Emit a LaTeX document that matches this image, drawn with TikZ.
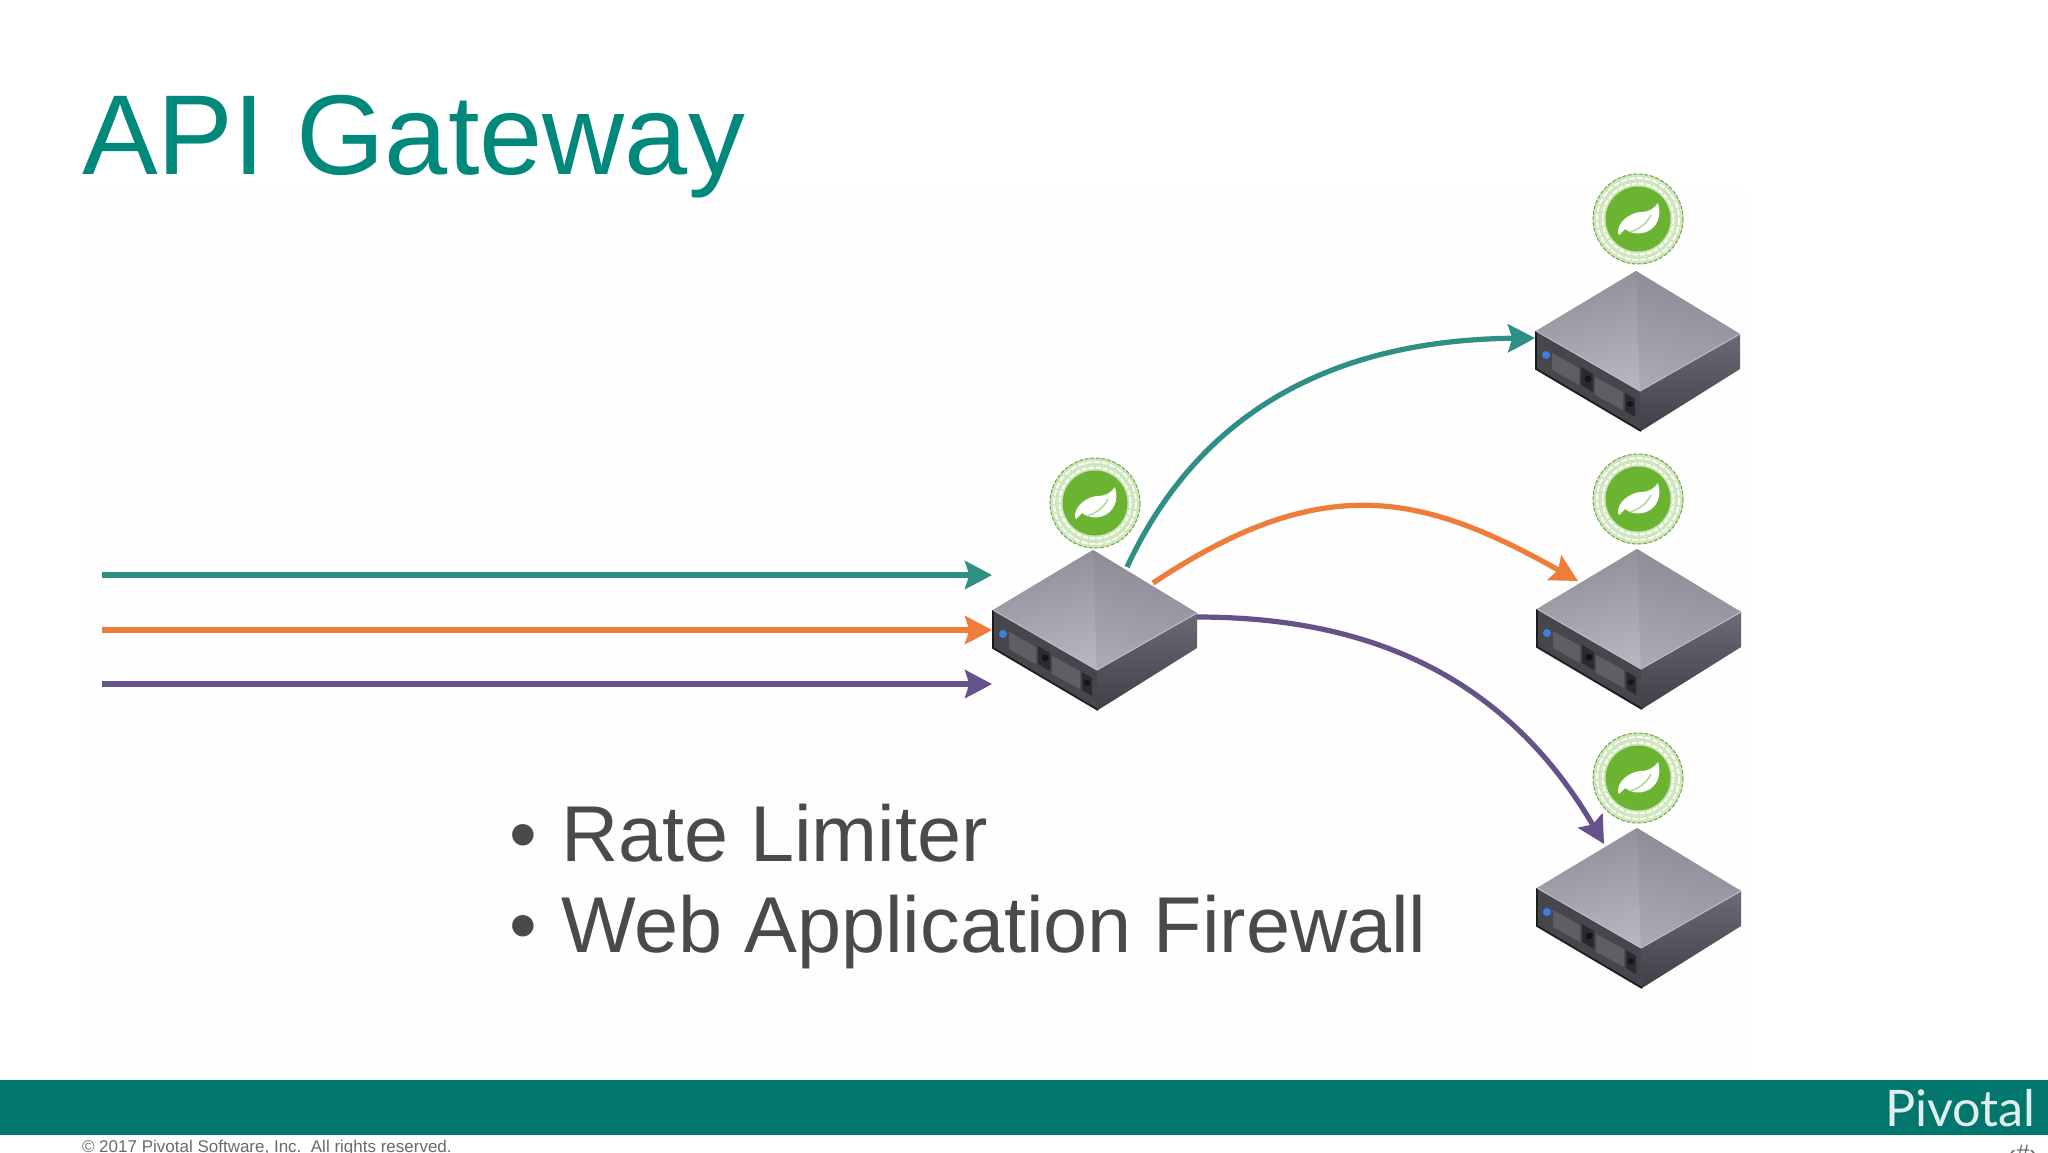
\documentclass[tikz,border=0pt]{standalone}
\usepackage{fontspec}
\setmainfont{Liberation Sans}
\newfontfamily\logofont{Lato}
\usetikzlibrary{arrows.meta}
\definecolor{titleC}{HTML}{00897B}
\definecolor{bandC}{HTML}{00766C}
\definecolor{tealC}{HTML}{2E8F85}
\definecolor{orangeC}{HTML}{EF7D3A}
\definecolor{purpleC}{HTML}{65528A}
\definecolor{bodyC}{HTML}{4A4A4C}
\definecolor{footC}{HTML}{6A6A6A}
\definecolor{springC}{HTML}{6BB432}
\definecolor{paperC}{HTML}{FEFEFE}
\definecolor{faceC}{HTML}{46464C}
\definecolor{bandDarkC}{HTML}{2A2A2F}
\definecolor{panelC}{HTML}{5E5E64}
\definecolor{knobC}{HTML}{141416}
\definecolor{ledC}{HTML}{3B7FE0}
\definecolor{rimC}{HTML}{BEBCC6}
\definecolor{edgeC}{HTML}{1C1C20}
\definecolor{topMidC}{HTML}{A09EA9}
\definecolor{topAL}{HTML}{8F8D97}
\definecolor{topBL}{HTML}{B6B4C0}
\definecolor{topAR}{HTML}{8B8995}
\definecolor{topBR}{HTML}{AAA8B5}
\definecolor{sideA}{HTML}{6C6A75}
\definecolor{sideB}{HTML}{403E48}
\tikzset{
  flow/.style={line width=2.6pt,-{Stealth[length=13.5pt,width=14pt,inset=2.2pt]},
    preaction={draw=black,draw opacity=.10,transform canvas={xshift=.8pt,yshift=-.9pt}}},
  txt/.style={inner sep=0pt,outer sep=0pt,anchor=base west},
  server/.pic={
    \coordinate (-inA) at (-101,25);
    \coordinate (-inB) at (-101,80);
    \coordinate (-inC) at (-101,134);
    \coordinate (-outA) at (34,17);
    \coordinate (-outB) at (60,33);
    \coordinate (-outC) at (104,67);
    \coordinate (-tipA) at (-101,67);
    \coordinate (-tipB) at (-59,32);
    \coordinate (-tipC) at (-33,16);
    % left front face
    \fill[faceC] (-100,60) -- (4,120) -- (5,160) -- (-100,98) -- cycle;
    \draw[edgeC,line width=.9pt] (-100,60) -- (-100,98) -- (5,160);
    % right face
    \shade[top color=sideA,bottom color=sideB]
      (4,120) -- (104,63) -- (104,98) -- (5,160) -- cycle;
    \fill[bandDarkC] (-55,96) -- (-43,103) -- (-43,121) -- (-55,114) -- cycle;
    \fill[bandDarkC] (-11,122) -- (-1,128) -- (-1,146) -- (-11,140) -- cycle;
    \fill[panelC] (-84,82) -- (-57,97) -- (-57,114) -- (-84,99) -- cycle;
    \fill[panelC] (-41,106) -- (-13,121) -- (-13,139) -- (-41,124) -- cycle;
    \fill[knobC] (-48,108) circle (3.5);
    \fill[knobC] (-6,133) circle (3);
    \fill[ledC] (-90,84) circle (4);
    % top face
    \fill[topMidC] (0,0) -- (-100,60) -- (4,120) -- (104,63) -- cycle;
    \shade[top color=topAL,bottom color=topBL,shading angle=15]
      (0,0) -- (-100,60) -- (4,120) -- cycle;
    \shade[top color=topAR,bottom color=topBR,shading angle=-15]
      (0,0) -- (104,63) -- (4,120) -- cycle;
    \draw[rimC,line width=.5pt] (-100,60) -- (4,120) -- (104,63);
  },
  spring/.pic={
    \fill[springC!32!white] (0,0) circle (45);
    \draw[springC!70!gray,line width=.5pt,dash pattern=on 2pt off .8pt] (0,0) circle (45);
    \draw[white,line width=.9pt,dash pattern=on 3pt off 1pt] (0,0) circle (41);
    \draw[white,line width=1pt,dash pattern=on 2.5pt off 1pt] (0,0) circle (35.5);
    \fill[springC] (0,0) circle (32.5);
    \fill[white] (-20,14) .. controls (-21,2) and (-6,-7) .. (3,-7)
      .. controls (10,-7) and (16,-10) .. (20,-16)
      .. controls (24,-3) and (19,9) .. (8,13)
      .. controls (0,16) and (-8,14) .. (-13,10) -- (-19,16) -- cycle;
    \draw[springC!55,line width=.7pt] (-8,13) .. controls (2,10) and (9,4) .. (13,-4);
  }
}
\begin{document}
\begin{tikzpicture}[x=0.5pt,y=-0.5pt]
\useasboundingbox (0,0) rectangle (2048,1152);
\clip (0,0) rectangle (2048,1152);
\fill[white] (0,0) rectangle (2048,1152);
\fill[paperC] (80,190) rectangle (1750,1080);

\node[txt,font=\fontsize{56.8}{60}\selectfont,text=titleC] (title) at (82,174) {API Gateway};

\fill[bandC] (0,1080) rectangle (2048,1135);
\node[txt,font=\logofont\fontsize{25.2}{30}\selectfont,text=white!88!bandC] (logo) at (1885,1126) {Pivotal};
\node[txt,font=\fontsize{8.5}{10}\selectfont,text=footC] (foot) at (82,1152) {© 2017 Pivotal Software, Inc.\ \ All rights reserved.};
\node[txt,font=\fontsize{12}{14}\selectfont,text=footC] (page) at (2008,1161) {‹\#›};

\node[txt,font=\fontsize{39.6}{44}\selectfont,text=bodyC] (b1) at (509,861) {•};
\node[txt,font=\fontsize{39.6}{44}\selectfont,text=bodyC] (l1) at (561,861) {Rate Limiter};
\node[txt,font=\fontsize{39.6}{44}\selectfont,text=bodyC] (b2) at (509,952) {•};
\node[txt,font=\fontsize{39.6}{44}\selectfont,text=bodyC] (l2) at (561,952) {Web Application Firewall};

\coordinate (srcA) at (102,575);
\coordinate (srcB) at (102,630);
\coordinate (srcC) at (102,684);

\pic (gw) at (1093,550) {server};
\pic (sa) at (1636,271) {server};
\pic (sb) at (1637,549) {server};
\pic (sc) at (1637,828) {server};

\pic at (1095,503) {spring};
\pic at (1638,219) {spring};
\pic at (1638,499) {spring};
\pic at (1638,778) {spring};

\draw[flow,tealC] (srcA) -- (gw-inA);
\draw[flow,orangeC] (srcB) -- (gw-inB);
\draw[flow,purpleC] (srcC) -- (gw-inC);
\draw[flow,tealC] (gw-outA) .. controls (1200,410) and (1335,340) .. (sa-tipA);
\draw[flow,orangeC] (gw-outB) .. controls (1325,468) and (1425,495) .. (sb-tipB);
\draw[flow,purpleC] (gw-outC) .. controls (1342,617) and (1495,658) .. (sc-tipC);
\end{tikzpicture}
\end{document}
